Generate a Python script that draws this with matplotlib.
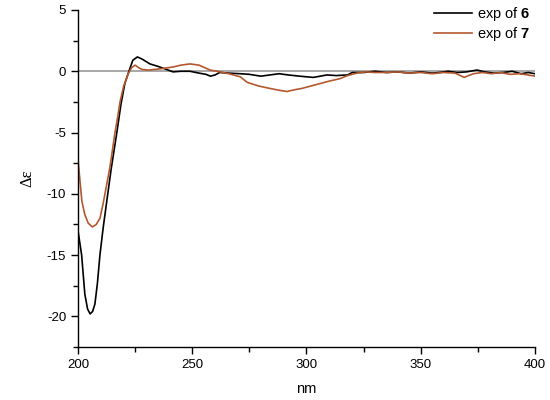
import matplotlib
matplotlib.use("Agg")
import matplotlib.pyplot as plt
from matplotlib.ticker import MultipleLocator

plt.rcParams['font.family'] = ['Liberation Sans', 'DejaVu Sans']
plt.rcParams['mathtext.fontset'] = 'custom'
plt.rcParams['mathtext.bf'] = 'Liberation Sans:bold'
plt.rcParams['mathtext.rm'] = 'Liberation Sans'
plt.rcParams['axes.unicode_minus'] = False

# exp of 6 (black)
nm_6 = [200, 201.6, 203, 204.2, 205.3, 206.4, 207.4, 208.5, 209.6, 211, 212.6, 214.5,
        217, 218.8, 220.5, 222.3, 224, 226, 228, 231.5, 235, 238, 241.6, 245, 249, 253,
        256, 258, 260, 262, 266, 271, 275, 280, 284, 288, 292, 297, 300, 303, 306, 309,
        313, 318, 320, 325, 330, 335, 340, 345, 350, 355, 358, 362, 366, 370, 374.6, 378,
        382, 386, 390, 394, 397, 400]
de_6 = [-13, -15, -18.2, -19.4, -19.8, -19.6, -19, -17.3, -15, -12.8, -10.6, -8,
        -5, -2.7, -1.0, 0.0, 0.9, 1.17, 1.0, 0.6, 0.4, 0.2, -0.05, 0.0, 0.0, -0.15,
        -0.25, -0.4, -0.3, -0.1, -0.15, -0.2, -0.25, -0.4, -0.3, -0.2, -0.3, -0.4, -0.45, -0.5, -0.4, -0.3,
        -0.35, -0.3, -0.1, -0.1, 0.0, -0.1, -0.05, -0.15, -0.05, -0.15, -0.1, 0.0, -0.1, -0.05, 0.1, -0.05,
        -0.15, -0.1, 0.0, -0.2, -0.1, -0.2]

# exp of 7 (brown)
nm_7 = [200, 201.7, 203, 204.5, 206.3, 208, 209.6, 211, 212.5, 214, 216.2, 217.3, 218.4,
        220, 222, 223.5, 225, 226.5, 228, 231, 236, 241.6, 245, 249, 253, 257.8, 261,
        266, 271, 274, 279, 284, 288, 291.5, 295, 298, 302, 306, 310, 314.7, 318, 322,
        326, 330, 335, 340, 345, 350, 355, 360, 365, 369, 373, 377, 381, 385, 389, 393,
        397, 400]
de_7 = [-7.2, -10.6, -11.7, -12.4, -12.7, -12.5, -12, -10.8, -9.3, -7.8, -5, -3.8, -2.5,
        -1.2, -0.2, 0.3, 0.5, 0.3, 0.15, 0.1, 0.2, 0.35, 0.5, 0.6, 0.5, 0.1, 0.0,
        -0.2, -0.45, -0.9, -1.2, -1.4, -1.55, -1.65, -1.5, -1.4, -1.2, -1.0, -0.8, -0.6, -0.35, -0.15,
        -0.05, -0.1, -0.1, -0.05, -0.15, -0.1, -0.2, -0.1, -0.15, -0.5, -0.2, -0.1, -0.2, -0.1, -0.25, -0.2,
        -0.3, -0.4]

fig = plt.figure(figsize=(5.5, 4), dpi=100)
ax = fig.add_axes([0.1418, 0.1325, 0.8309, 0.8425])

ax.axhline(0, color='#9a9a9a', lw=1.2, zorder=1)
ax.plot(nm_6, de_6, color='black', lw=1.2, label=r'exp of $\mathbf{6}$')
ax.plot(nm_7, de_7, color='#b4582f', lw=1.2, label=r'exp of $\mathbf{7}$')

ax.set_xlim(200, 400)
ax.set_ylim(-22.5, 5)
ax.xaxis.set_major_locator(MultipleLocator(50))
ax.xaxis.set_minor_locator(MultipleLocator(25))
ax.yaxis.set_major_locator(MultipleLocator(5))
ax.yaxis.set_minor_locator(MultipleLocator(2.5))
ax.tick_params(which='major', direction='out', length=5, width=1, labelsize=9.5)
ax.tick_params(which='minor', direction='out', length=3.5, width=1)

for s in ['top', 'right']:
    ax.spines[s].set_visible(False)
for s in ['left', 'bottom']:
    ax.spines[s].set_linewidth(1.0)

ax.set_xlabel('nm', fontsize=10.5, labelpad=8)
ax.set_ylabel('Δε', fontsize=12, family=['Liberation Serif', 'DejaVu Serif'], labelpad=8)

ax.legend(loc='upper right', bbox_to_anchor=(531 / 550, 1 - 5 / 400), bbox_transform=fig.transFigure,
          frameon=False, fontsize=10.5, handlelength=2.6, handletextpad=0.35,
          labelspacing=0.15, borderaxespad=0, borderpad=0)

fig.savefig('out.png', dpi=100)
